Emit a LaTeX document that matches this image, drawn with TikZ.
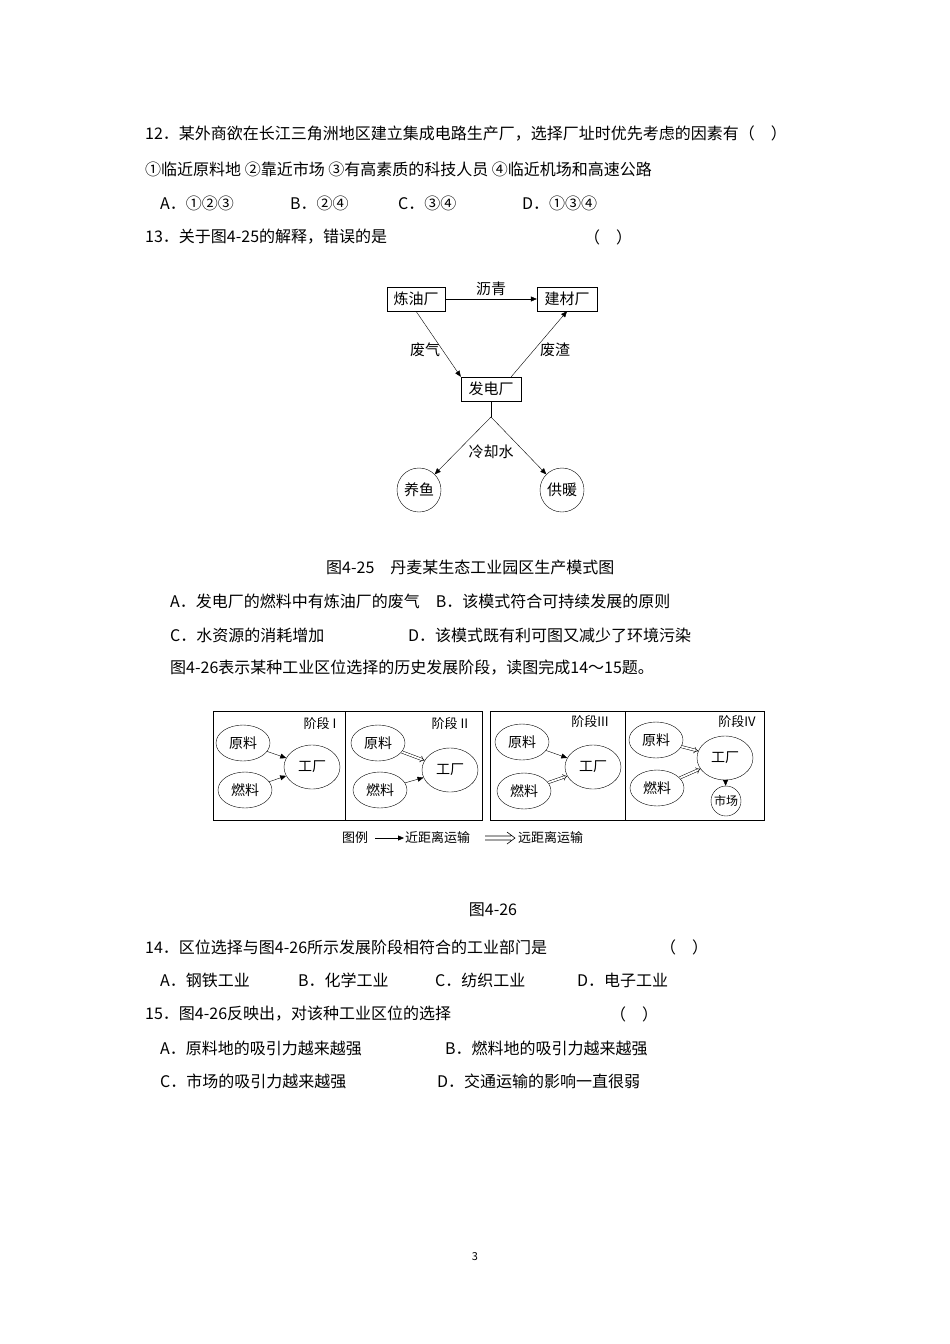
\documentclass[tikz,border=0pt]{standalone}
\usepackage{fontspec}
\setmainfont{Noto Sans CJK SC}
\usetikzlibrary{arrows,arrows.meta,shapes.geometric}
\begin{document}
\begin{tikzpicture}[x=1pt,y=-1pt,
  txt/.style={anchor=west,inner sep=0,font=\fontsize{16}{16}\selectfont},
  sm/.style={inner sep=0,font=\fontsize{15}{15}\selectfont},
  bx/.style={draw,inner sep=0,minimum height=24,font=\fontsize{15}{15}\selectfont},
  ci/.style={draw,circle,inner sep=0,minimum size=44,font=\fontsize{15}{15}\selectfont},
  el/.style={draw,ellipse,inner sep=0,font=\fontsize{14}{14}\selectfont},
  ar/.style={-{Triangle[length=6pt,width=5pt]}},
  dar/.style={double,line width=0.5pt,double distance=1.8pt,-implies},
]
\useasboundingbox (0,0) rectangle (950,1344);
\node[txt] (q12) at (145,134) {12．某外商欲在长江三角洲地区建立集成电路生产厂，选择厂址时优先考虑的因素有（　）};
\node[txt] (q12o) at (145,169) {①临近原料地 ②靠近市场 ③有高素质的科技人员 ④临近机场和高速公路};
\node[txt] (a1) at (160,203) {A．①②③};
\node[txt] (b1) at (290,203) {B．②④};
\node[txt] (c1) at (398,203) {C．③④};
\node[txt] (d1) at (522,203) {D．①③④};
\node[txt] (q13) at (145,237) {13．关于图4-25的解释，错误的是};
\node[txt] (p13) at (584,237) {（　）};
% diagram 1
\node[bx,minimum width=58] (lyc) at (416,299) {炼油厂};
\node[bx,minimum width=60] (jcc) at (567,299) {建材厂};
\node[bx,minimum width=60] (fdc) at (491,389) {发电厂};
\coordinate (sp) at (491,417);
\node[ci] (yy) at (419,490) {养鱼};
\node[ci] (gn) at (562,490) {供暖};
\draw[ar] (lyc) -- node[sm,above=3pt]{沥青} (jcc);
\draw[ar] (lyc.south) -- (fdc.north west);
\draw[ar] ([xshift=-10]fdc.north east) -- (jcc.south);
\node[sm] (fq) at (425,350) {废气};
\node[sm] (fz) at (555,350) {废渣};
\draw (fdc.south) -- (sp);
\draw[ar] (sp) -- (yy.north east);
\draw[ar] (sp) -- (gn.north west);
\node[sm] (lqs) at (491,452) {冷却水};
\node[txt] (cap1) at (326,567) {图4-25　丹麦某生态工业园区生产模式图};
\node[txt] (o13a) at (170,601) {A．发电厂的燃料中有炼油厂的废气　B．该模式符合可持续发展的原则};
\node[txt] (o13c) at (170,635) {C．水资源的消耗增加};
\node[txt] (o13d) at (408,635) {D．该模式既有利可图又减少了环境污染};
\node[txt] (i14) at (170,668) {图4-26表示某种工业区位选择的历史发展阶段，读图完成14～15题。};
% diagram 2
\draw (213,711) rectangle (482,820) (345,711) -- (345,820);
\draw (490,711) rectangle (764,820) (625,711) -- (625,820);
\node[sm,font=\fontsize{13}{13}\selectfont] at (320,724) {阶段 I};
\node[sm,font=\fontsize{13}{13}\selectfont] at (450,724) {阶段 II};
\node[sm,font=\fontsize{13}{13}\selectfont] at (590,722) {阶段III};
\node[sm,font=\fontsize{13}{13}\selectfont] at (737,722) {阶段IV};
\foreach \n/\rx/\ry/\fx/\fy/\gx/\gy in {a/243/743/312/767/245/790, b/378/743/450/770/380/790, c/522/742/593/767/524/791, d/656/740/725/758/657/788}{
  \node[el,minimum width=54,minimum height=36] (r\n) at (\rx,\ry) {原料};
  \node[el,minimum width=54,minimum height=36] (f\n) at (\gx,\gy) {燃料};
  \node[el,minimum width=56,minimum height=44] (g\n) at (\fx,\fy) {工厂};
}
\node[ci,minimum size=30,font=\fontsize{12}{12}\selectfont] (sc) at (726,801) {市场};
\draw[ar] (ra) -- (ga);
\draw[ar] (fa) -- (ga);
\draw[dar] (rb) -- (gb);
\draw[ar] (fb) -- (gb);
\draw[ar] (rc) -- (gc);
\draw[dar] (fc) -- (gc);
\draw[dar] (rd) -- (gd);
\draw[dar] (fd) -- (gd);
\draw[ar] (gd) -- (sc);
\node[sm,font=\fontsize{13}{13}\selectfont] (ly) at (355,838) {图例};
\coordinate (l1) at (375,838); \coordinate (l2) at (404,838);
\draw[ar] (l1) -- (l2);
\node[sm,font=\fontsize{13}{13}\selectfont,anchor=west] (jj) at (405,838) {近距离运输};
\coordinate (l3) at (485,838); \coordinate (l4) at (515,838);
\draw[line width=0.6pt] ([yshift=-2]l3) -- ([yshift=-2,xshift=-4]l4) ([yshift=2]l3) -- ([yshift=2,xshift=-4]l4)
  ([xshift=-8,yshift=-6]l4) -- (l4) -- ([xshift=-8,yshift=6]l4);
\node[sm,font=\fontsize{13}{13}\selectfont,anchor=west] (yj) at (518,838) {远距离运输};
\node[txt,anchor=center] (cap2) at (493,910) {图4-26};
\node[txt] (q14) at (145,947) {14．区位选择与图4-26所示发展阶段相符合的工业部门是};
\node[txt] (p14) at (660,947) {（　）};
\node[txt] at (160,980) {A．钢铁工业};
\node[txt] at (298,980) {B．化学工业};
\node[txt] at (435,980) {C．纺织工业};
\node[txt] at (577,980) {D．电子工业};
\node[txt] (q15) at (145,1014) {15．图4-26反映出，对该种工业区位的选择};
\node[txt] (p15) at (610,1014) {（　）};
\node[txt] at (160,1048) {A．原料地的吸引力越来越强};
\node[txt] at (445,1048) {B．燃料地的吸引力越来越强};
\node[txt] at (160,1081) {C．市场的吸引力越来越强};
\node[txt] at (437,1081) {D．交通运输的影响一直很弱};
\node[sm,font=\fontsize{11}{11}\selectfont] (pg) at (475,1257) {3};
\end{tikzpicture}
\end{document}
